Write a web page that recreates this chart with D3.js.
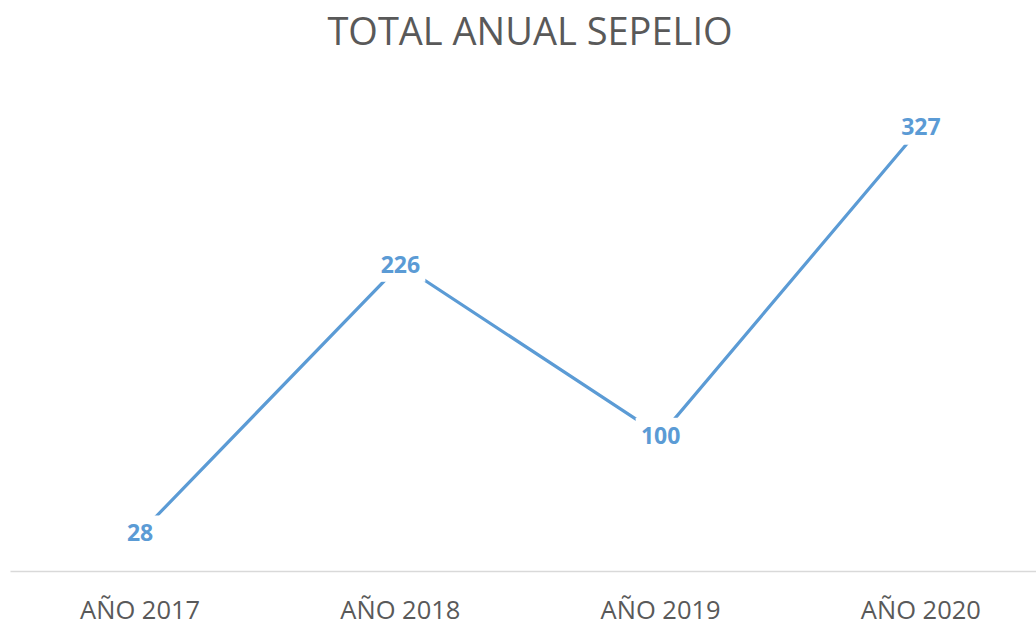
<!DOCTYPE html>
<html>
<head>
<meta charset="utf-8">
<script src="https://cdn.jsdelivr.net/npm/d3@7"></script>
<style>
  html, body { margin: 0; padding: 0; background: #fff; }
  svg { display: block; }
</style>
</head>
<body>
<svg id="chart" width="1036" height="623"></svg>
<script>
// Annual burial totals
const categories = ["AÑO 2017", "AÑO 2018", "AÑO 2019", "AÑO 2020"];
const totals = [28, 226, 100, 327];
const titleText = "TOTAL ANUAL SEPELIO";

const W = 1036, H = 623;
const plot = { left: 10, right: 1051, top: 96, bottom: 571 };
const blue = "#5B9BD5";
const grey = "#595959";
const font = "'Open Sans', 'DejaVu Sans', sans-serif";

const svg = d3.select("#chart");

const x = d3.scaleBand().domain(categories).range([plot.left, plot.right]);
const y = d3.scaleLinear().domain([0, 350]).range([plot.bottom, plot.top]);
const cx = d => x(d) + x.bandwidth() / 2;

const data = categories.map((c, i) => ({ cat: c, value: totals[i] }));

// Title
svg.append("text")
  .attr("x", 530).attr("y", 45)
  .attr("text-anchor", "middle")
  .attr("font-family", font)
  .attr("font-size", 38)
  .attr("fill", grey)
  .text(titleText);

// Category axis
const axis = svg.append("g")
  .attr("transform", `translate(0,${plot.bottom})`)
  .call(d3.axisBottom(x).tickSize(0).tickPadding(0));
axis.select(".domain").attr("stroke", "#d9d9d9").attr("stroke-width", 1.5);
axis.selectAll(".tick text")
  .attr("y", 48)
  .attr("dy", null)
  .attr("font-family", font)
  .attr("font-size", 25.5)
  .attr("fill", grey);

// Series line
svg.append("path")
  .datum(data)
  .attr("fill", "none")
  .attr("stroke", blue)
  .attr("stroke-width", 3.2)
  .attr("d", d3.line().x(d => cx(d.cat)).y(d => y(d.value)));

// Value labels centred on each point, with a white box that masks the line
const labels = svg.append("g").selectAll("g")
  .data(data)
  .join("g")
  .attr("transform", d => `translate(${cx(d.cat)},${y(d.value)})`);

labels.append("rect")
  .attr("x", -25).attr("y", -17.5)
  .attr("width", 50).attr("height", 35)
  .attr("fill", "#fff");

labels.append("text")
  .attr("text-anchor", "middle")
  .attr("dy", "0.36em")
  .attr("font-family", font)
  .attr("font-size", 23)
  .attr("font-weight", 700)
  .attr("fill", blue)
  .text(d => d.value);
</script>
</body>
</html>
